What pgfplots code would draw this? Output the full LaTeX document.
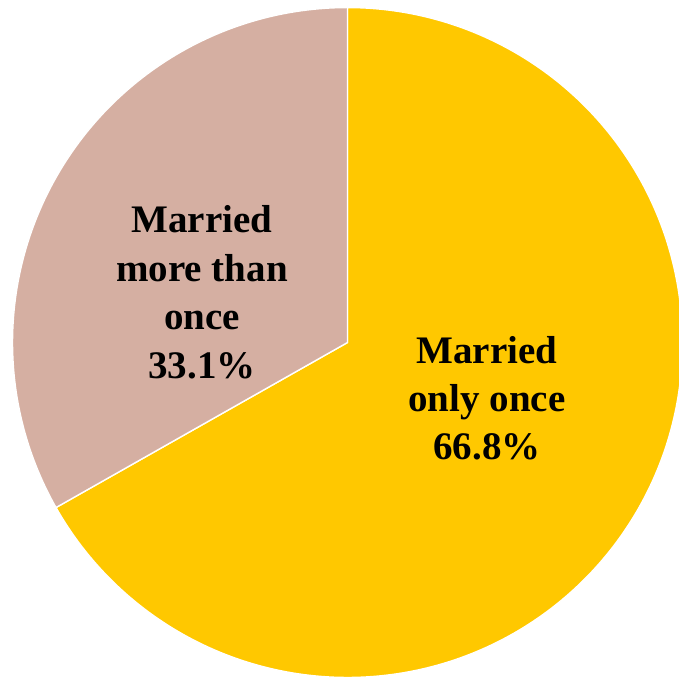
\documentclass[border=0pt]{standalone}
\usepackage{pgfplots}
\pgfplotsset{compat=1.18}
\usepackage{fontspec}
\setmainfont{Liberation Serif}
\definecolor{gold}{RGB}{255,200,0}
\definecolor{rose}{RGB}{213,175,162}
\begin{document}
\begin{tikzpicture}
\useasboundingbox (0,0) rectangle (6.79cm,6.8cm);
\begin{axis}[
  at={(0,0)}, anchor=south west,
  scale only axis, width=6.79cm, height=6.8cm,
  xmin=0, xmax=679, ymin=0, ymax=680,
  hide axis, clip=true,
]
% Married only once 66.8%: from 90 deg clockwise by 66.8*3.6 = 240.48 deg
\addplot[fill=gold, draw=white, line width=0.4pt, domain=-150.48:90, samples=241, variable=\t]
  ({347.5+335*cos(t)},{337.5+335*sin(t)}) -- (axis cs:347.5,337.5) -- cycle;
% Married more than once 33.1%
\addplot[fill=rose, draw=white, line width=0.4pt, domain=90:209.52, samples=121, variable=\t]
  ({347.5+335*cos(t)},{337.5+335*sin(t)}) -- (axis cs:347.5,337.5) -- cycle;
\node[align=center, font=\fontsize{11.1}{13.8}\selectfont\bfseries] at (axis cs:202,388)
  {Married\\more than\\once\\33.1\%};
\node[align=center, font=\fontsize{11.1}{13.6}\selectfont\bfseries] at (axis cs:487,282)
  {Married\\only once\\66.8\%};
\end{axis}
\end{tikzpicture}
\end{document}
